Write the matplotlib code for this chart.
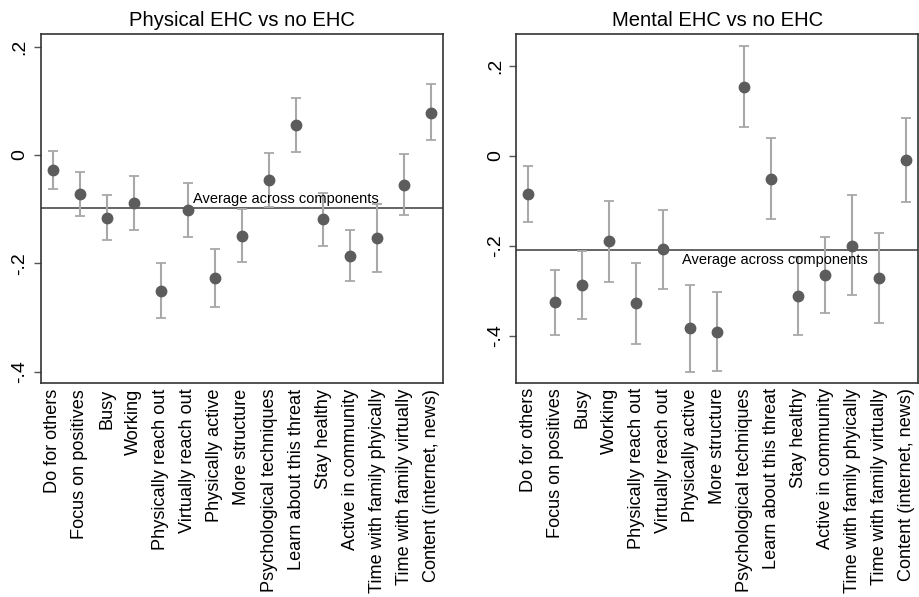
import numpy as np
import matplotlib
matplotlib.use("Agg")
import matplotlib.pyplot as plt

plt.rcParams['font.family'] = ['Liberation Sans', 'DejaVu Sans']

components = ["Do for others", "Focus on positives", "Busy", "Working",
              "Physically reach out", "Virtually reach out", "Physically active",
              "More structure", "Psychological techniques", "Learn about this threat",
              "Stay healthy", "Active in community", "Time with family phyically",
              "Time with family virtually", "Content (internet, news)"]

# physical EHC vs no EHC
phys_est = [-0.028, -0.072, -0.116, -0.089, -0.251, -0.101, -0.226, -0.150,
            -0.047, 0.055, -0.119, -0.186, -0.154, -0.055, 0.078]
phys_lo = [-0.063, -0.113, -0.157, -0.138, -0.301, -0.151, -0.280, -0.198,
           -0.096, 0.006, -0.168, -0.233, -0.216, -0.110, 0.027]
phys_hi = [0.007, -0.032, -0.073, -0.039, -0.200, -0.051, -0.173, -0.099,
           0.004, 0.105, -0.071, -0.138, -0.091, 0.001, 0.130]
phys_avg = -0.097

# mental EHC vs no EHC
ment_est = [-0.084, -0.326, -0.288, -0.190, -0.328, -0.208, -0.384, -0.392,
            0.154, -0.051, -0.312, -0.266, -0.200, -0.272, -0.010]
ment_lo = [-0.146, -0.398, -0.363, -0.280, -0.419, -0.297, -0.481, -0.479,
           0.064, -0.140, -0.398, -0.349, -0.310, -0.371, -0.103]
ment_hi = [-0.022, -0.254, -0.211, -0.100, -0.238, -0.120, -0.288, -0.304,
           0.245, 0.040, -0.224, -0.180, -0.088, -0.172, 0.085]
ment_avg = -0.210

yticks = [-0.4, -0.2, 0, 0.2]
ytick_labels = ["-.4", "-.2", "0", ".2"]


def panel(ax, est, lo, hi, avg, title, ylim, text_x, text_va):
    x = np.arange(1, len(components) + 1)
    est = np.array(est)
    err = [est - np.array(lo), np.array(hi) - est]
    ax.errorbar(x, est, yerr=err, fmt='none', ecolor='#a8a8a8',
                elinewidth=1.5, capsize=3.5, capthick=1.3, zorder=2)
    ax.plot(x, est, 'o', color='#5c5c5c', markersize=7.5, zorder=3)
    ax.axhline(avg, color='#3a3a3a', linewidth=1.1, zorder=1)
    ax.text(text_x, avg + (0.003 if text_va == 'bottom' else -0.006),
            "Average across components", fontsize=10.5, va=text_va, ha='left')
    ax.set_xlim(0.57, 15.43)
    ax.set_ylim(*ylim)
    ax.set_xticks(x)
    ax.set_xticklabels(components, rotation=90, fontsize=13.1)
    ax.set_yticks(yticks)
    ax.set_yticklabels(ytick_labels, rotation=90, fontsize=14, va='center')
    ax.tick_params(axis='x', length=0, pad=4)
    ax.tick_params(axis='y', length=5, width=1, color='#555555', pad=4)
    for s in ax.spines.values():
        s.set_color('#333333')
        s.set_linewidth(1.2)
    ax.set_title(title, fontsize=14.6, pad=6)


fig = plt.figure(figsize=(9.19, 5.97), dpi=100)
ax1 = fig.add_axes([0.0446, 0.358, 0.4374, 0.585])
ax2 = fig.add_axes([0.562, 0.359, 0.437, 0.5835])

panel(ax1, phys_est, phys_lo, phys_hi, phys_avg, "Physical EHC vs no EHC",
      (-0.421, 0.223), 6.18, 'bottom')
panel(ax2, ment_est, ment_lo, ment_hi, ment_avg, "Mental EHC vs no EHC",
      (-0.505, 0.271), 6.69, 'top')

plt.savefig("out.png", dpi=100)
